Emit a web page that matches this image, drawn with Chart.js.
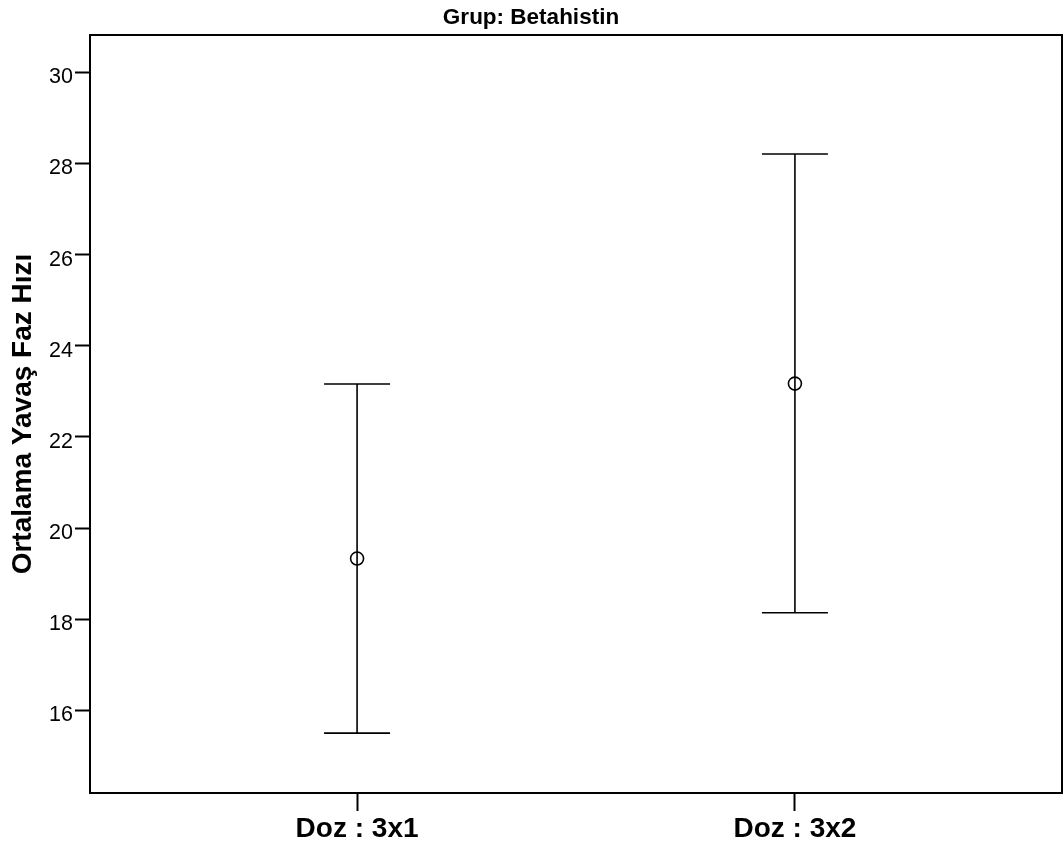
<!DOCTYPE html>
<html><head><meta charset="utf-8">
<script src="https://cdn.jsdelivr.net/npm/chart.js@4/dist/chart.umd.min.js"></script>
<style>html,body{margin:0;padding:0;background:#fff;} canvas{display:block;}</style>
</head><body>
<canvas id="c" width="1063" height="850"></canvas>
<script>
const categories = ['Doz : 3x1', 'Doz : 3x2'];
const categoryPositions = [1, 2];
const means = [19.33, 23.17];
const lowerCI = [15.50, 18.14];
const upperCI = [23.16, 28.21];
const yTicks = [16, 18, 20, 22, 24, 26, 28, 30];
const chartTitle = 'Grup: Betahistin';
const yTitle = 'Ortalama Yavaş Faz Hızı';

const FONT = "'Liberation Sans', Arial, Helvetica, sans-serif";

const errorBarPlugin = {
  id: 'errorBars',
  beforeDatasetsDraw(chart) {
    const {ctx, scales: {x, y}} = chart;
    ctx.save();
    ctx.strokeStyle = '#000';
    ctx.lineWidth = 1.6;
    categoryPositions.forEach((c, i) => {
      const px = x.getPixelForValue(c);
      const yl = y.getPixelForValue(lowerCI[i]);
      const yu = y.getPixelForValue(upperCI[i]);
      ctx.beginPath();
      ctx.moveTo(px, yu); ctx.lineTo(px, yl);
      ctx.moveTo(px - 33, yu); ctx.lineTo(px + 33, yu);
      ctx.moveTo(px - 33, yl); ctx.lineTo(px + 33, yl);
      ctx.stroke();
    });
    ctx.restore();
  },
  afterDraw(chart) {
    const {ctx, chartArea: a} = chart;
    ctx.save();
    ctx.strokeStyle = '#000';
    ctx.lineWidth = 2;
    ctx.strokeRect(a.left, a.top, a.right - a.left, a.bottom - a.top);
    ctx.restore();
  }
};

new Chart(document.getElementById('c'), {
  type: 'scatter',
  data: {
    datasets: [{
      label: 'Ortalama',
      data: categoryPositions.map((c, i) => ({x: c, y: means[i]})),
      pointStyle: 'circle',
      pointRadius: 6.5,
      pointHoverRadius: 6.5,
      pointBorderWidth: 1.6,
      pointBorderColor: '#000',
      pointBackgroundColor: 'rgba(0,0,0,0)'
    }]
  },
  options: {
    responsive: false,
    animation: false,
    devicePixelRatio: 1,
    layout: { autoPadding: false, padding: { left: 0, right: 1, top: 0, bottom: 0 } },
    plugins: {
      legend: { display: false },
      tooltip: { enabled: false },
      title: {
        display: true,
        text: chartTitle,
        color: '#000',
        font: { family: FONT, size: 22.5, weight: 'bold' },
        padding: { top: 4, bottom: 4 }
      }
    },
    scales: {
      x: {
        type: 'linear',
        min: 0.39,
        max: 2.61,
        afterBuildTicks(scale) { scale.ticks = categoryPositions.map(v => ({value: v})); },
        afterFit(scale) { scale.height = 57; },
        border: { display: false },
        grid: { drawOnChartArea: false, drawTicks: true, tickLength: 18, tickColor: '#000', tickWidth: 2 },
        ticks: {
          padding: 1,
          color: '#000',
          font: { family: FONT, size: 28, weight: 'bold' },
          maxRotation: 0,
          callback: (v, i) => categories[i]
        }
      },
      y: {
        type: 'linear',
        min: 14.185,
        max: 30.82,
        afterBuildTicks(scale) { scale.ticks = yTicks.map(v => ({value: v})); },
        afterFit(scale) { scale.width = 90; },
        border: { display: false },
        grid: { drawOnChartArea: false, drawTicks: true, tickLength: 15, tickColor: '#000', tickWidth: 2 },
        ticks: {
          padding: 2,
          labelOffset: 5,
          color: '#000',
          font: { family: FONT, size: 21.5 },
          callback: (v) => String(v)
        },
        title: {
          display: true,
          text: yTitle,
          color: '#000',
          font: { family: FONT, size: 28, weight: 'bold' },
          padding: { top: 6, bottom: 0 }
        }
      }
    }
  },
  plugins: [errorBarPlugin]
});
</script>
</body></html>
